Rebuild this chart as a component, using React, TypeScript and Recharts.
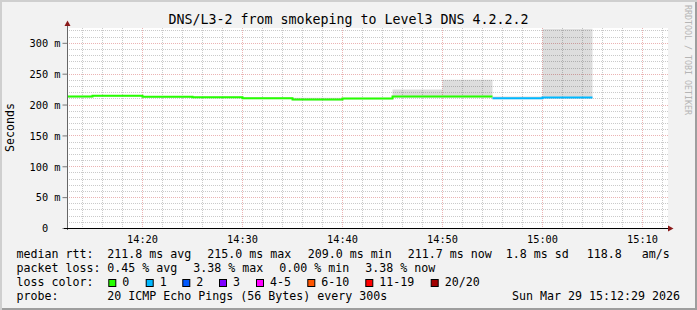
import { ComposedChart, Area, Line, XAxis, YAxis } from 'recharts';

// 5 minute buckets, minutes after 14:00 (first bucket is the partial one from 14:12:30)
const bucketStarts = [12.5, 15, 20, 25, 30, 35, 40, 45, 50, 55, 60];
const bucketEnd = 65;
const medianRtt = [213.8, 215.0, 213.3, 212.7, 211.1, 209.0, 210.6, 213.8, 213.8, 211.1, 212.3];
const smokeMin = [212.0, 213.2, 211.5, 210.9, 209.3, 207.2, 208.8, 212.0, 212.0, 209.3, 210.5];
const smokeMax = [215.2, 216.4, 214.6, 214.0, 212.6, 212.0, 211.8, 225.2, 240.9, 214.0, 324];
const lostPings = [0, 0, 0, 0, 0, 0, 0, 0, 0, 1, 1];

const timeTicks = [20, 30, 40, 50, 60, 70];
const timeLabels = ['14:20', '14:30', '14:40', '14:50', '15:00', '15:10'];
const rttTicks = [0, 50, 100, 150, 200, 250, 300];
const rttLabels = ['0', '50 m', '100 m', '150 m', '200 m', '250 m', '300 m'];

const lossLabels = ['0', '1', '2', '3', '4-5', '6-10', '11-19', '20/20'];
const lossColors = ['#26ff00', '#00b8ff', '#0059ff', '#7e00ff', '#ff00ff', '#ff5500', '#ff0000', '#a10000'];

const rttStats = ['211.8 ms avg', '215.0 ms max', '209.0 ms min', '211.7 ms now', '1.8 ms sd', '118.8', 'am/s'];
const lossStats = ['0.45 % avg', '3.38 % max', '0.00 % min', '3.38 % now'];

// legend column positions (pixels)
const rttX = [107.3, 207.3, 307.7, 407.7, 505.7, 586.7, 641.7];
const lossX = [107.3, 193.3, 279.3, 365.3];
const boxX = [108.3, 145.7, 182.3, 219, 256, 307.3, 365.3, 430.7];

const FONT = '"DejaVu Sans Mono", monospace';
const PLOT_LEFT = 67.5;
const PLOT_W = 600;
const PLOT_TOP = 28.5;
const PLOT_H = 200;
const X_MIN = 12.5;
const X_MAX = 72.5;
const Y_MAX = 324;

function lossClass(n: number) {
  if (n <= 3) return n;
  if (n <= 5) return 4;
  if (n <= 10) return 5;
  if (n <= 19) return 6;
  return 7;
}

const points = [...bucketStarts, bucketEnd];
const rows = points.map((t, i) => {
  const seg = Math.min(i, medianRtt.length - 1);
  const row: Record<string, number | null> = {
    t,
    smokeLow: smokeMin[seg],
    smokeBand: smokeMax[seg] - smokeMin[seg],
  };
  lossColors.forEach((_, c) => {
    const own = i < medianRtt.length && lossClass(lostPings[i]) === c;
    const prev = i > 0 && lossClass(lostPings[i - 1]) === c;
    row['m' + c] = own ? medianRtt[i] : prev ? medianRtt[i - 1] : null;
  });
  return row;
});
const usedClasses = lossColors.map((_, c) => c).filter((c) => lostPings.some((n) => lossClass(n) === c));

// background grid, snapped to whole pixels like rrdtool does
const gy = (v: number) => Math.round(PLOT_TOP + PLOT_H - (v * PLOT_H) / Y_MAX - 0.5) + 0.5;
const gx = (m: number) => Math.round(PLOT_LEFT + ((m - X_MIN) * PLOT_W) / (X_MAX - X_MIN) - 0.5) + 0.5;
const minorY: number[] = [];
for (let v = 10; v <= 320; v += 10) if (v % 50 !== 0) minorY.push(v);
const majorY = [50, 100, 150, 200, 250, 300];
const minorX: number[] = [];
for (let m = 14; m <= 72; m += 2) if (m % 10 !== 0) minorX.push(m);

const XTick = (props: any) => {
  const idx = timeTicks.indexOf(props.payload.value);
  return (
    <text x={props.x} y={props.y + 14} textAnchor="middle" fontFamily={FONT} fontSize={10.3} fill="#000">
      {timeLabels[idx]}
    </text>
  );
};

const YTick = (props: any) => {
  const idx = rttTicks.indexOf(props.payload.value);
  const label = rttLabels[idx];
  const shift = label.includes('m') ? 0 : 12.4;
  return (
    <text x={props.x - shift} y={props.y + 3.8} textAnchor="end" fontFamily={FONT} fontSize={10.3} fill="#000">
      {label}
    </text>
  );
};

function GridLayer() {
  const x1 = PLOT_LEFT - 0.5;
  const x2 = PLOT_LEFT + PLOT_W + 0.5;
  const y1 = PLOT_TOP - 0.5;
  const y2 = PLOT_TOP + PLOT_H;
  return (
    <svg width={697} height={310} style={{ position: 'absolute', left: 0, top: 0 }}>
      <rect x={x1} y={y1} width={x2 - x1} height={y2 - y1} fill="#fff" />
      <g stroke="#cacaca" strokeDasharray="1 1">
        {minorY.map((v) => (
          <line key={'hy' + v} x1={x1} x2={x2} y1={gy(v)} y2={gy(v)} />
        ))}
        {minorX.map((m) => (
          <line key={'vx' + m} x1={gx(m)} x2={gx(m)} y1={y1} y2={y2} />
        ))}
      </g>
      <g stroke="#ebb3b3" strokeDasharray="1 1">
        {majorY.map((v) => (
          <line key={'HY' + v} x1={x1} x2={x2} y1={gy(v)} y2={gy(v)} />
        ))}
        {timeTicks.map((m) => (
          <line key={'VX' + m} x1={gx(m)} x2={gx(m)} y1={y1} y2={y2} />
        ))}
      </g>
    </svg>
  );
}

export default function App() {
  return (
    <div
      style={{
        position: 'absolute',
        left: 0,
        top: 0,
        width: 697,
        height: 310,
        background: '#f2f2f2',
        boxShadow: 'inset 2px 2px 0 #cfcfcf, inset -2px -2px 0 #9e9e9e',
        overflow: 'hidden',
      }}
    >
      <GridLayer />
      <ComposedChart
        width={697}
        height={310}
        data={rows}
        margin={{ top: PLOT_TOP, right: 697 - PLOT_LEFT - PLOT_W, left: PLOT_LEFT - 60, bottom: 310 - PLOT_TOP - PLOT_H - 20 }}
      >
        <XAxis
          dataKey="t"
          type="number"
          domain={[X_MIN, X_MAX]}
          ticks={timeTicks}
          allowDataOverflow
          axisLine={false}
          tickLine={false}
          tickSize={0}
          tickMargin={0}
          height={20}
          tick={<XTick />}
        />
        <YAxis
          type="number"
          domain={[0, Y_MAX]}
          ticks={rttTicks}
          allowDataOverflow
          axisLine={false}
          tickLine={{ stroke: '#777' }}
          tickSize={5}
          tickMargin={2}
          width={60}
          tick={<YTick />}
        />
        <Area
          type="stepAfter"
          dataKey="smokeLow"
          stackId="smoke"
          stroke="none"
          fill="none"
          isAnimationActive={false}
        />
        <Area
          type="stepAfter"
          dataKey="smokeBand"
          stackId="smoke"
          stroke="none"
          fill="#000"
          fillOpacity={0.135}
          isAnimationActive={false}
        />
        {usedClasses.map((c) => (
          <Line
            key={c}
            type="stepAfter"
            dataKey={'m' + c}
            stroke={lossColors[c]}
            strokeWidth={2}
            dot={false}
            activeDot={false}
            isAnimationActive={false}
          />
        ))}
      </ComposedChart>

      <svg
        width={697}
        height={310}
        style={{ position: 'absolute', left: 0, top: 0, pointerEvents: 'none' }}
        fontFamily={FONT}
      >
        {/* axes */}
        <line x1={67.5} y1={25} x2={67.5} y2={230} stroke="#666" />
        <line x1={64} y1={228.5} x2={669} y2={228.5} stroke="#000" />
        <polygon points="64.5,26 67.5,20.5 70.5,26" fill="#8b1a1a" />
        <polygon points="668,225.5 673.5,228.5 668,231.5" fill="#8b1a1a" />

        <text x={348.5} y={24} textAnchor="middle" fontSize={13.3} fill="#000">
          DNS/L3-2 from smokeping to Level3 DNS 4.2.2.2
        </text>
        <text x={14} y={127.5} transform="rotate(-90 14 127.5)" textAnchor="middle" fontSize={11.6} fill="#000">
          Seconds
        </text>
        <text x={685} y={5} transform="rotate(90 685 5)" fontSize={8.3} fill="#b5b5b5">
          RRDTOOL / TOBI OETIKER
        </text>

        {/* legend */}
        <g fontSize={11.63} fill="#000">
          <text x={16.5} y={258}>median rtt:</text>
          {rttStats.map((s, i) => (
            <text key={s} x={rttX[i]} y={258}>{s}</text>
          ))}
          <text x={16.5} y={272}>packet loss:</text>
          {lossStats.map((s, i) => (
            <text key={s + i} x={lossX[i]} y={272}>{s}</text>
          ))}
          <text x={16.5} y={286}>loss color:</text>
          {lossLabels.map((s, i) => (
            <g key={s}>
              <rect x={boxX[i] + 0.5} y={279.5} width={7} height={7} fill={lossColors[i]} stroke="#000" />
              <text x={boxX[i] + 14} y={286}>{s}</text>
            </g>
          ))}
          <text x={16.5} y={300}>probe:</text>
          <text x={107.3} y={300}>20 ICMP Echo Pings (56 Bytes) every 300s</text>
          <text x={680} y={300} textAnchor="end">Sun Mar 29 15:12:29 2026</text>
        </g>
      </svg>
    </div>
  );
}
